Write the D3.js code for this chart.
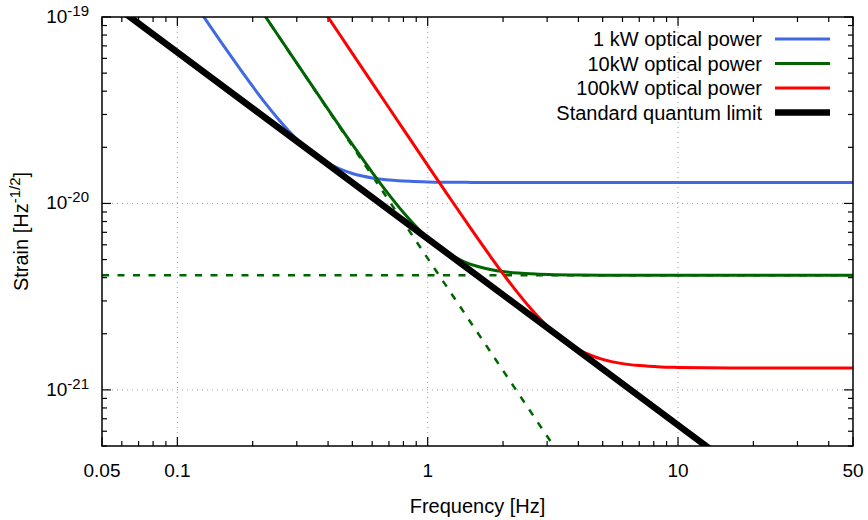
<!DOCTYPE html>
<html>
<head>
<meta charset="utf-8">
<script src="https://cdn.jsdelivr.net/npm/d3@7/dist/d3.min.js"></script>
<style>
  html, body { margin: 0; padding: 0; background: #fff; }
  svg { display: block; }
  text { font-family: "Liberation Sans", Arial, Helvetica, sans-serif; fill: #000; }
</style>
</head>
<body>
<svg id="chart" width="868" height="520"></svg>
<script>
// ---------- data ----------
const xTickValues = [0.05, 0.1, 1, 10, 50];
const xTickLabels = ["0.05", "0.1", "1", "10", "50"];
const yTickValues = [1e-21, 1e-20, 1e-19];
const yTickExponents = ["-21", "-20", "-19"];

const seriesNames = ["1 kW optical power", "10kW optical power", "100kW optical power", "Standard quantum limit"];

// 1 kW optical power  [frequency Hz, strain]
const power1kW = [
  [0.125, 1.041e-19], [0.15, 7.29e-20], [0.175, 5.43e-20], [0.2, 4.24e-20], [0.225, 3.44e-20],
  [0.25, 2.89e-20], [0.28, 2.43e-20], [0.31, 2.12e-20], [0.35, 1.847e-20], [0.4, 1.641e-20],
  [0.45, 1.521e-20], [0.5, 1.447e-20], [0.6, 1.370e-20], [0.7, 1.336e-20], [0.85, 1.314e-20],
  [1, 1.305e-20], [1.5, 1.297e-20], [2, 1.295e-20], [3, 1.295e-20], [5, 1.295e-20],
  [10, 1.295e-20], [20, 1.295e-20], [50, 1.295e-20]
];
// 10 kW optical power
const power10kW = [
  [0.22, 1.0495e-19], [0.25, 8.13e-20], [0.3, 5.655e-20], [0.35, 4.165e-20], [0.4, 3.199e-20],
  [0.5, 2.072e-20], [0.6, 1.469e-20], [0.7, 1.115e-20], [0.8, 8.94e-21], [0.9, 7.50e-21],
  [1.0, 6.538e-21], [1.1, 5.880e-21], [1.25, 5.247e-21], [1.4, 4.866e-21], [1.6, 4.572e-21],
  [1.8, 4.408e-21], [2.0, 4.311e-21], [2.3, 4.230e-21], [2.7, 4.179e-21], [3.2, 4.150e-21],
  [4, 4.132e-21], [5, 4.125e-21], [7, 4.121e-21], [10, 4.12e-21], [20, 4.12e-21], [50, 4.12e-21]
];
// 100 kW optical power
const power100kW = [
  [0.39, 1.049e-19], [0.45, 7.881e-20], [0.5, 6.384e-20], [0.6, 4.434e-20], [0.7, 3.259e-20],
  [0.8, 2.497e-20], [1, 1.601e-20], [1.2, 1.116e-20], [1.5, 7.21e-21], [1.8, 5.096e-21],
  [2.2, 3.547e-21], [2.6, 2.700e-21], [3, 2.204e-21], [3.5, 1.847e-21], [4, 1.646e-21],
  [4.5, 1.529e-21], [5, 1.457e-21], [6, 1.383e-21], [7, 1.350e-21], [8.5, 1.328e-21],
  [10, 1.320e-21], [13, 1.313e-21], [17, 1.311e-21], [25, 1.31e-21], [50, 1.31e-21]
];
// Standard quantum limit
const sqlLine = [[0.06, 1.078e-19], [15, 4.313e-22]];
// 10 kW components (dashed): shot-noise floor and radiation-pressure slope
const shot10kW = [[0.05, 4.12e-21], [50, 4.12e-21]];
const radiation10kW = [[0.2, 1.269e-19], [3.5, 4.144e-22]];

const colors = ["#4169e1", "#006400", "#ff0000", "#000000"];

// ---------- layout ----------
const svg = d3.select("#chart");
const L = 102, R = 853, T = 17, B = 446;
const x = d3.scaleLog().domain([0.05, 50]).range([L, R]);
const y = d3.scaleLog().domain([5e-22, 1e-19]).range([B, T]);

svg.append("defs").append("clipPath").attr("id", "plotclip")
  .append("rect").attr("x", L).attr("y", T).attr("width", R - L).attr("height", B - T);

// grid
const grid = svg.append("g");
[0.1, 1, 10].forEach(v => {
  grid.append("line").attr("x1", x(v)).attr("x2", x(v)).attr("y1", T).attr("y2", B)
    .attr("stroke", "#a0a0a0").attr("stroke-width", 1).attr("stroke-dasharray", "1,4");
});
[1e-21, 1e-20].forEach(v => {
  grid.append("line").attr("x1", L).attr("x2", R).attr("y1", y(v)).attr("y2", y(v))
    .attr("stroke", "#a0a0a0").attr("stroke-width", 1).attr("stroke-dasharray", "1,4");
});

// ticks (inward, mirrored on all sides)
const xMinor = [];
[0.01, 0.1, 1, 10].forEach(d => { for (let k = 2; k <= 9; k++) { const v = d * k; if (v > 0.05 && v < 50) xMinor.push(v); } });
const yMinor = [];
[1e-22, 1e-21, 1e-20].forEach(d => { for (let k = 2; k <= 9; k++) { const v = d * k; if (v > 5e-22 && v < 1e-19) yMinor.push(v); } });

const ticks = svg.append("g").attr("stroke", "#000").attr("stroke-width", 1.2);
function xt(v, len) {
  ticks.append("line").attr("x1", x(v)).attr("x2", x(v)).attr("y1", B).attr("y2", B - len);
  ticks.append("line").attr("x1", x(v)).attr("x2", x(v)).attr("y1", T).attr("y2", T + len);
}
function yt(v, len) {
  ticks.append("line").attr("y1", y(v)).attr("y2", y(v)).attr("x1", L).attr("x2", L + len);
  ticks.append("line").attr("y1", y(v)).attr("y2", y(v)).attr("x1", R).attr("x2", R - len);
}
xMinor.forEach(v => xt(v, 5));
xTickValues.forEach(v => xt(v, 9));
yMinor.forEach(v => yt(v, 5));
yTickValues.forEach(v => yt(v, 9));

// curves
const line = d3.line().x(d => x(d[0])).y(d => y(d[1])).curve(d3.curveMonotoneX);
const lineStraight = d3.line().x(d => x(d[0])).y(d => y(d[1]));
const plot = svg.append("g").attr("clip-path", "url(#plotclip)");

plot.append("path").attr("d", lineStraight(shot10kW)).attr("fill", "none")
  .attr("stroke", colors[1]).attr("stroke-width", 2.5).attr("stroke-dasharray", "7,8.5");
plot.append("path").attr("d", lineStraight(radiation10kW)).attr("fill", "none")
  .attr("stroke", colors[1]).attr("stroke-width", 2.5).attr("stroke-dasharray", "7,8.5");

[power1kW, power10kW, power100kW].forEach((s, i) => {
  plot.append("path").attr("d", line(s)).attr("fill", "none")
    .attr("stroke", colors[i]).attr("stroke-width", 3);
});
plot.append("path").attr("d", lineStraight(sqlLine)).attr("fill", "none")
  .attr("stroke", colors[3]).attr("stroke-width", 6.5);

// frame
svg.append("rect").attr("x", L).attr("y", T).attr("width", R - L).attr("height", B - T)
  .attr("fill", "none").attr("stroke", "#000").attr("stroke-width", 1.5);

// x tick labels
xTickValues.forEach((v, i) => {
  svg.append("text").attr("x", x(v)).attr("y", 477).attr("text-anchor", "middle")
    .attr("font-size", 19).text(xTickLabels[i]);
});
// y tick labels
yTickValues.forEach((v, i) => {
  const t = svg.append("text").attr("x", 89).attr("y", y(v) + 6).attr("text-anchor", "end")
    .attr("font-size", 19);
  t.append("tspan").text("10");
  t.append("tspan").attr("font-size", 15).attr("dy", -7).text(yTickExponents[i]);
});

// axis labels
svg.append("text").attr("x", (L + R) / 2).attr("y", 513).attr("text-anchor", "middle")
  .attr("font-size", 20).text("Frequency [Hz]");
const yl = svg.append("text").attr("transform", `translate(28,${(T + B) / 2}) rotate(-90)`)
  .attr("text-anchor", "middle").attr("font-size", 20);
yl.append("tspan").text("Strain [Hz");
yl.append("tspan").attr("font-size", 15).attr("dy", -8).text("-1/2");
yl.append("tspan").attr("dy", 8).text("]");

// legend
const legendY = [39, 63.5, 88, 112.5];
const widths = [3, 3, 3, 6.5];
seriesNames.forEach((n, i) => {
  svg.append("text").attr("x", 762).attr("y", legendY[i] + 7).attr("text-anchor", "end")
    .attr("font-size", 20).text(n);
  svg.append("line").attr("x1", 775).attr("x2", 830).attr("y1", legendY[i]).attr("y2", legendY[i])
    .attr("stroke", colors[i]).attr("stroke-width", widths[i]);
});
</script>
</body>
</html>
